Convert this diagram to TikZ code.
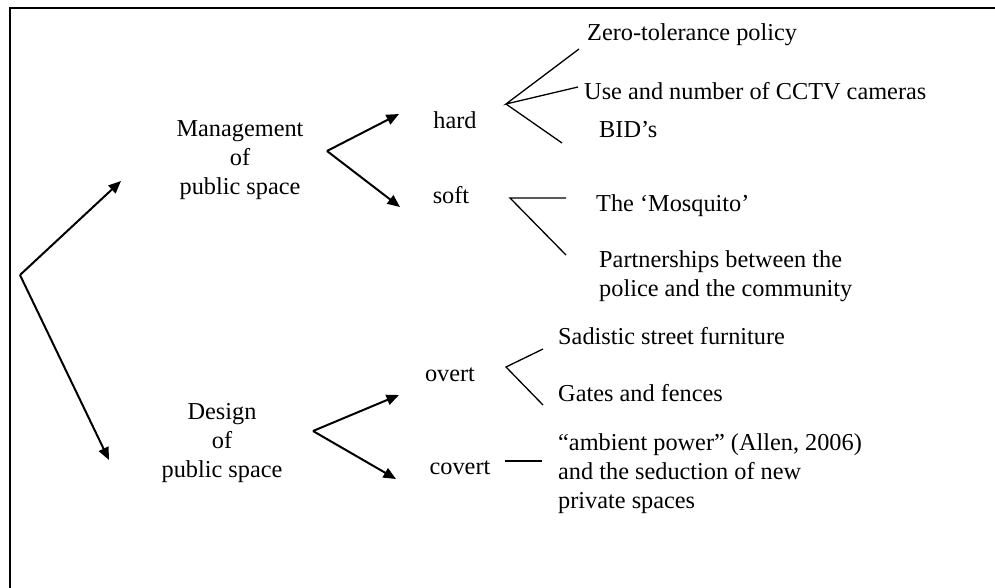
\documentclass[tikz,border=0pt]{standalone}
\usepackage{fontspec}
\setmainfont{Liberation Serif}
\usetikzlibrary{arrows.meta}
\begin{document}
\begin{tikzpicture}[x=1pt,y=-1pt,
  every node/.style={font=\fontsize{24.3}{29}\selectfont, inner sep=0pt},
  itemtext/.style={anchor=west, align=left},
  grouptext/.style={align=center},
  arrowline/.style={line width=2pt, -{Triangle[length=12.5pt,width=10.5pt]}},
  twig/.style={line width=1.3pt},
  frameline/.style={line width=2.8pt}]
\useasboundingbox (0,0) rectangle (995,588);

% open frame: left and top edges
\draw[frameline, line join=miter] (10,588) -- (10,8) -- (995,8);

% main groups
\node[grouptext] (mgmt) at (240,160) {Management\\of\\public space};
\node[grouptext] (design) at (222,443) {Design\\of\\public space};

% second level
\node (hard) at (455,120) {hard};
\node (soft) at (451,195) {soft};
\node (overt) at (450,375) {overt};
\node (covert) at (460,468) {covert};

% leaves
\node[itemtext] (zero) at (587,35) {Zero-tolerance policy};
\node[itemtext] (cctv) at (584,91) {Use and number of CCTV cameras};
\node[itemtext] (bid) at (599,130) {BID’s};
\node[itemtext] (mosq) at (596,206) {The ‘Mosquito’};
\node[itemtext] (partner) at (599,276) {Partnerships between the\\police and the community};
\node[itemtext] (sadistic) at (558,336) {Sadistic street furniture};
\node[itemtext] (gates) at (558,393) {Gates and fences};
\node[itemtext] (ambient) at (558,474) {“ambient power” (Allen, 2006)\\and the seduction of new\\private spaces};

% arrow junctions and tips
\coordinate (root) at (20,275);
\coordinate (mgmtTip) at (121,181);
\coordinate (designTip) at (109,460);
\coordinate (mSplit) at (327,151);
\coordinate (hardTip) at (399,114);
\coordinate (softTip) at (400,207);
\coordinate (dSplit) at (313,431);
\coordinate (overtTip) at (399,395);
\coordinate (covertTip) at (396,479);

\draw[arrowline] (root) -- (mgmtTip);
\draw[arrowline] (root) -- (designTip);
\draw[arrowline] (mSplit) -- (hardTip);
\draw[arrowline] (mSplit) -- (softTip);
\draw[arrowline] (dSplit) -- (overtTip);
\draw[arrowline] (dSplit) -- (covertTip);

% fans towards the leaves
\coordinate (hFan) at (506,104);
\coordinate (zeroEnd) at (579,49);
\coordinate (cctvEnd) at (578,87);
\coordinate (bidEnd) at (562,143);
\draw[twig] (zeroEnd) -- (hFan) -- (cctvEnd);
\draw[twig] (hFan) -- (bidEnd);

\coordinate (sFan) at (510,198);
\coordinate (mosqEnd) at (566,198);
\coordinate (partnerEnd) at (566,255);
\draw[twig] (mosqEnd) -- (sFan) -- (partnerEnd);

\coordinate (oFan) at (506,367);
\coordinate (sadisticEnd) at (543,349);
\coordinate (gatesEnd) at (543,405);
\draw[twig] (sadisticEnd) -- (oFan) -- (gatesEnd);

\coordinate (cStart) at (505,461);
\coordinate (ambientEnd) at (542,461);
\draw[twig] (cStart) -- (ambientEnd);
\end{tikzpicture}
\end{document}
